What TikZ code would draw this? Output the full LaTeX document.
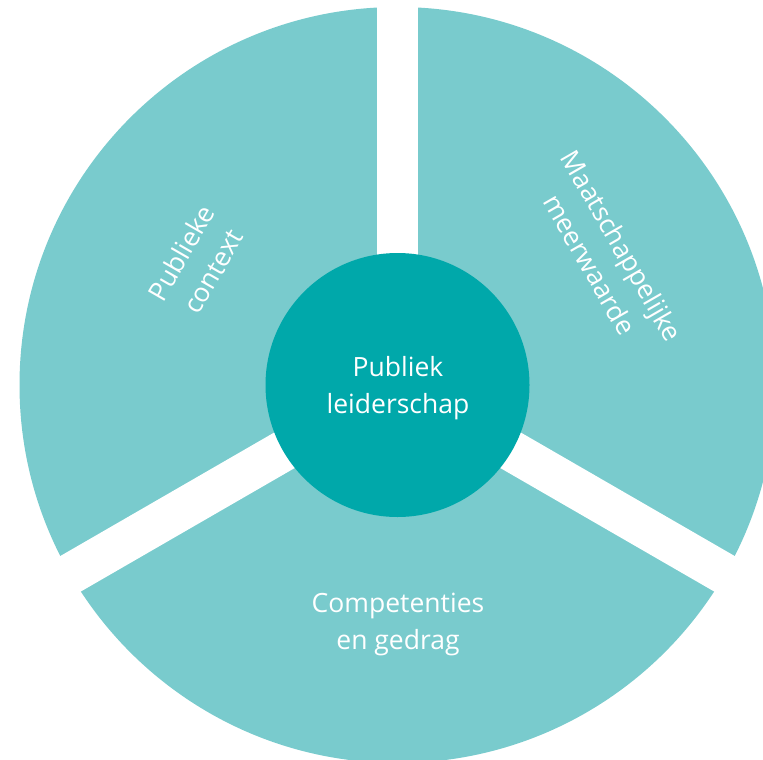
\documentclass[tikz,border=0pt]{standalone}
\usepackage{fontspec}
\setmainfont{Open Sans}
\definecolor{light}{HTML}{79CBCD}
\definecolor{dark}{HTML}{00A8AA}
\begin{document}
\begin{tikzpicture}[x=1pt,y=-1pt,
  lbl/.style={text=white,font=\fontsize{26.5}{37}\selectfont,align=center,inner sep=0pt},
  gap/.style={white,line width=41pt}]
\useasboundingbox (0,0) rectangle (763,760);
\clip (0,0) rectangle (763,760);
\coordinate (c) at (397.5,385);
\fill[light] (c) circle[radius=378];
\draw[gap] (c) -- ++(0,-420);
\draw[gap] (c) -- ++(-363.7,210);
\draw[gap] (c) -- ++(363.7,210);
\node[circle,fill=dark,minimum size=264pt,inner sep=0pt] (hub) at (c) {};
\node[lbl] (pl) at (398,388) {Publiek\\leiderschap};
\node[lbl,rotate=60] (ctx) at (197,262) {Publieke\\context};
\node[lbl,rotate=-60] (mw) at (606,255) {Maatschappelijke\\meerwaarde};
\node[lbl] (cg) at (398,624) {Competenties\\en gedrag};
\end{tikzpicture}
\end{document}
